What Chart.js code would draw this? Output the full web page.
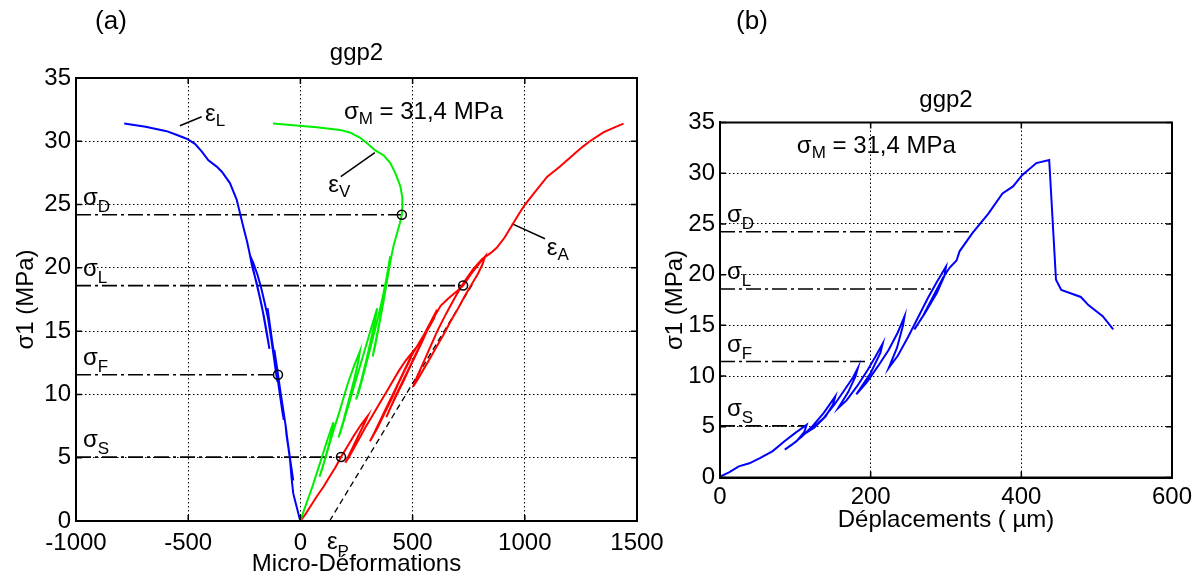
<!DOCTYPE html>
<html><head><meta charset="utf-8">
<script src="https://cdn.jsdelivr.net/npm/chart.js@4.4.1/dist/chart.umd.min.js"></script>
<style>
html,body{margin:0;padding:0;background:#fff;width:1198px;height:579px;overflow:hidden;}
canvas{position:absolute;top:0;}
#ca{left:0;}
#cb{left:650px;}
</style></head><body>
<canvas id="ca" width="690" height="579"></canvas>
<canvas id="cb" width="548" height="579"></canvas>
<script>
const FONT = "'Liberation Sans', Arial, Helvetica, sans-serif";

// ---------- Panel (a) data: stress (MPa) vs micro-strain ----------
const epsL = [[0,0],[-5,0.3],[-15,1.0],[-25,1.7],[-32,2.2],[-40,3.5],[-46,4.8],[-55,6.0],[-66,7.6],
  [-62,6.8],[-52,5.6],[-40,4.2],[-32,3.2],
  [-38,3.8],[-46,4.9],[-56,6.2],[-68,7.8],[-80,9.2],[-92,10.6],[-104,12.1],[-116,13.5],
  [-111,12.6],[-100,11.2],[-86,9.4],[-74,8.0],
  [-80,8.6],[-90,9.8],[-101,11.2],[-113,12.7],[-125,14.1],[-136,15.5],[-146,16.8],
  [-140,15.9],[-128,14.3],[-114,12.5],[-102,11.0],
  [-108,11.6],[-118,12.9],[-130,14.4],[-144,16.0],[-160,17.3],[-176,18.5],[-192,19.5],[-210,20.4],[-225,21.0],
  [-215,20.1],[-195,18.8],[-172,17.0],[-152,15.0],[-138,13.6],
  [-148,14.7],[-162,16.1],[-180,17.6],[-200,19.1],[-222,20.8],[-238,22.1],[-254,23.2],[-284,25.4],[-314,26.7],
  [-350,27.6],[-373,28.0],[-410,28.5],[-440,29.2],[-470,29.8],[-507,30.2],[-550,30.5],[-596,30.8],[-690,31.15],[-785,31.4]];
const epsV = [[0,0],[15,0.8],[35,1.8],[55,2.8],[75,3.9],[95,5.0],[120,6.4],[147,7.8],
  [140,7.0],[125,5.9],[105,4.6],[85,3.5],
  [95,4.0],[112,5.0],[130,6.1],[150,7.3],[170,8.4],[190,9.6],[212,10.9],[238,12.2],[265,13.4],
  [258,12.6],[240,11.2],[215,9.5],[190,7.8],[170,6.6],
  [180,7.1],[200,8.3],[222,9.6],[245,11.0],[270,12.5],[295,14.0],[320,15.5],[342,16.8],
  [335,16.0],[318,14.6],[295,12.8],[270,11.0],[248,9.6],
  [260,10.2],[280,11.5],[302,13.0],[325,14.6],[348,16.2],[368,17.8],[385,19.3],[400,20.9],
  [395,20.0],[382,18.6],[362,16.6],[340,14.6],[322,13.0],
  [335,14.0],[352,15.6],[370,17.3],[388,19.2],[404,20.8],[416,21.8],[430,22.7],[443,23.5],[452,24.2],[455,25.0],[454,25.6],
  [446,26.4],[436,26.9],[420,27.6],[400,28.3],[370,28.9],[332,29.3],[300,29.8],[265,30.3],[220,30.7],
  [176,30.9],[73,31.1],[-122,31.4]];
const epsA = [[0,0],[25,0.6],[50,1.3],[75,2.0],[103,2.7],[130,3.5],[155,4.2],[181,5.05],[210,5.9],[240,6.8],[270,7.6],[300,8.3],
  [285,7.7],[260,6.8],[230,5.7],[200,4.6],
  [215,5.0],[240,5.8],[265,6.6],[290,7.4],[320,8.3],[350,9.2],[380,10.1],[410,11.0],[440,11.9],[470,12.7],[502,13.4],
  [490,12.8],[465,11.9],[435,10.8],[405,9.6],[375,8.5],[345,7.4],[310,6.3],
  [330,7.0],[360,8.1],[390,9.2],[420,10.3],[455,11.6],[490,12.9],[520,13.8],[550,14.7],[580,15.7],[609,16.7],
  [595,16.0],[564,15.0],[538,14.0],[511,13.0],[484,12.0],[458,11.0],[430,10.0],[403,9.0],[383,8.2],
  [400,8.9],[425,9.9],[455,11.0],[490,12.3],[525,13.6],[560,14.9],[595,16.1],[625,17.0],[660,17.6],[700,18.2],[725,18.6],
  [760,19.5],[795,20.3],[823,20.9],
  [812,20.3],[790,19.5],[760,18.6],[730,17.7],[700,16.7],[670,15.8],[640,14.8],[608,13.8],[576,12.8],[546,11.9],[520,11.1],[502,10.6],
  [520,11.4],[545,12.4],[575,13.6],[610,15.0],[650,16.4],[690,17.7],[730,18.9],[770,19.9],[810,20.7],[850,21.2],[876,21.6],
  [910,22.4],[948,23.5],[975,24.3],[1001,25.0],[1050,26.1],[1100,27.2],[1157,28.0],[1220,29.0],[1260,29.6],[1290,30.0],
  [1350,30.7],[1400,31.1],[1440,31.4]];
const epsP = [[130,0],[770,18.8]];
const circlesA = [[452,24.2],[725,18.6],[-100,11.55],[181,5.05]];
const sigmaNames = ['D','L','F','S'];
const sigmaA = [24.2, 18.6, 11.55, 5.05];
const sigmaA_end = [452, 725, -100, 181];
const leaderL = [[-537,31.23],[-440,31.94]];
const leaderV = [[180,27.2],[332,29.1]];
const leaderA = [[942,23.5],[1090,22.3]];
const ticksA_x = [-1000,-500,0,500,1000,1500];
const ticksY = [0,5,10,15,20,25,30,35];

// ---------- Panel (b) data: stress (MPa) vs displacement (µm) ----------
const dispB = [[0,0.1],[12,0.5],[25,1.1],[39,1.4],[53,1.9],[70,2.6],[86,3.6],[100,4.4],[115,5.2],
  [112,4.5],[102,3.6],[86,2.75],
  [95,3.2],[108,4.0],[122,5.0],[138,6.4],[153,8.0],
  [150,7.2],[140,6.0],[125,4.9],[110,4.2],
  [122,4.8],[138,5.9],[152,7.2],[165,8.6],[176,9.8],[183,10.8],
  [180,10.0],[170,8.4],[157,6.85],
  [168,7.6],[182,9.0],[196,10.6],[207,12.0],[216,13.2],
  [213,12.3],[200,10.3],[181,8.2],
  [195,9.4],[210,11.0],[224,12.6],[236,14.3],[245,15.9],
  [243,15.0],[235,12.8],[224,10.8],
  [236,12.0],[250,13.9],[263,15.8],[276,17.7],[288,19.3],[300,20.8],
  [298,19.9],[288,18.2],[272,16.2],[258,14.6],
  [270,16.0],[284,18.0],[296,19.7],[305,20.7],[314,21.4],[318,22.3],[335,24.1],[356,26.0],[375,28.0],
  [389,28.7],[401,29.8],[420,31.0],[437,31.3],[446,19.5],[453,18.5],[479,17.8],[489,17.0],[508,15.9],[522,14.6]];
const sigmaB = [24.23, 18.58, 11.43, 5.09];
const sigmaB_end = [332, 280, 195, 115];
const ticksB_x = [0,200,400,600];

// ---------- helpers ----------
const toXY = a => a.map(p => ({x:p[0], y:p[1]}));
function lineDs(arr, color, width, dash){
  return {data: toXY(arr), showLine:true, borderColor:color, borderWidth:width, borderDash:dash||[],
    pointRadius:0, pointHoverRadius:0, fill:false, tension:0};
}
function circleDs(arr){
  return {data: toXY(arr), showLine:false, pointRadius:4.5, pointBorderWidth:1.5,
    pointBorderColor:'#000', pointBackgroundColor:'rgba(0,0,0,0)', pointStyle:'circle'};
}
const DASHDOT = [15,4,3,4];
function sigmaLines(levels, ends, xmin){
  return levels.map((v,i)=> lineDs([[xmin,v],[ends[i],v]], '#000', 1.6, DASHDOT));
}
function drawSub(ctx, x, y, main, sub, size, subSize, drop){
  ctx.font = size+'px '+FONT; ctx.textAlign='left'; ctx.textBaseline='alphabetic'; ctx.fillStyle='#000';
  ctx.fillText(main, x, y);
  const w = ctx.measureText(main).width;
  ctx.font = subSize+'px '+FONT;
  ctx.fillText(sub, x+w, y+drop);
  return x + w + ctx.measureText(sub).width;
}
function frame(chart){
  const {ctx, chartArea:a, scales:{x,y}} = chart;
  ctx.save();
  ctx.strokeStyle='#000'; ctx.lineWidth=1.5;
  ctx.beginPath();
  x.ticks.forEach(t=>{const p=x.getPixelForValue(t.value); ctx.moveTo(p,a.bottom); ctx.lineTo(p,a.bottom-6); ctx.moveTo(p,a.top); ctx.lineTo(p,a.top+6);});
  y.ticks.forEach(t=>{const p=y.getPixelForValue(t.value); ctx.moveTo(a.left,p); ctx.lineTo(a.left+6,p); ctx.moveTo(a.right,p); ctx.lineTo(a.right-6,p);});
  ctx.stroke();
  ctx.lineWidth=2;
  ctx.strokeRect(a.left,a.top,a.right-a.left,a.bottom-a.top);
  ctx.restore();
}
function scales(c){
  return {
    x: {type:'linear', min:c.xmin, max:c.xmax,
      afterBuildTicks: s => { s.ticks = c.xticks.map(v=>({value:v})); },
      ticks:{color:'#000', font:{family:FONT,size:24}, padding:c.xpad, maxRotation:0, autoSkip:false, callback:v=>String(v)},
      grid:{color:'#000', lineWidth:1, drawTicks:false},
      border:{display:true, color:'#000', width:2, dash:[1.5,2.5]},
      title:{display:true, text:c.xtitle, color:'#000', font:{family:FONT,size:24}, padding:{top:0,bottom:c.xtitlePad}},
      afterFit: s => { s.height = c.xh; s.paddingLeft=0; s.paddingRight=0; s.paddingTop=0; s.paddingBottom=0; }
    },
    y: {type:'linear', min:0, max:35,
      afterBuildTicks: s => { s.ticks = ticksY.map(v=>({value:v})); },
      ticks:{color:'#000', font:{family:FONT,size:24}, padding:c.ypad, callback:v=>String(v)},
      grid:{color:'#000', lineWidth:1, drawTicks:false},
      border:{display:true, color:'#000', width:2, dash:[1.5,2.5]},
      title:{display:true, text:'σ1 (MPa)', color:'#000', font:{family:FONT,size:24}, padding:{top:c.ytitlePad,bottom:0}},
      afterFit: s => { s.width = c.yw; s.paddingLeft=0; s.paddingRight=0; s.paddingTop=0; s.paddingBottom=0; }
    }
  };
}
function titleOpt(top, bottom){
  return {display:true, text:'ggp2', color:'#000', fullSize:false, align:'center',
    font:{family:FONT, size:24, weight:'normal'}, padding:{top:top, bottom:bottom}};
}

// ---------- Chart (a) ----------
const annA = {
  panel:'(a)', panelX:111,
  sigmaM:{x:194, y:31.8},
  eps:[{x:-425,y:31.6,s:'L'},{x:124,y:26.0,s:'V'},{x:1098,y:21.0,s:'A'}],
  epsPx:118
};
new Chart(document.getElementById('ca'), {
  type:'scatter',
  data:{datasets:[
    circleDs(circlesA),
    lineDs(epsL,'#0000ff',2),
    lineDs(epsV,'#00ee00',2),
    lineDs(epsA,'#ff0000',2),
    lineDs(epsP,'#000',1.3,[6,4]),
    lineDs(leaderL,'#000',1.5), lineDs(leaderV,'#000',1.5), lineDs(leaderA,'#000',1.5),
    ...sigmaLines(sigmaA, sigmaA_end, -1000)
  ]},
  options:{
    responsive:false, animation:false, events:[],
    layout:{padding:{left:0,right:53,top:0,bottom:0}},
    plugins:{legend:{display:false}, tooltip:{enabled:false}, title:titleOpt(38.6,10.6)},
    scales: scales({xmin:-1000,xmax:1500,xticks:ticksA_x,xtitle:'Micro-Déformations',xpad:8,xtitlePad:0,xh:58,ypad:5,ytitlePad:12,yw:76})
  },
  plugins:[{id:'annA', afterDraw(chart){
    frame(chart);
    const {ctx, chartArea:a, scales:{x,y}} = chart;
    ctx.save();
    ctx.fillStyle='#000'; ctx.font='26px '+FONT; ctx.textAlign='center'; ctx.textBaseline='middle';
    ctx.fillText(annA.panel, annA.panelX, 22);
    let e = drawSub(ctx, x.getPixelForValue(annA.sigmaM.x), y.getPixelForValue(annA.sigmaM.y), 'σ','M',24,17,5);
    ctx.font='24px '+FONT; ctx.fillText(' = 31,4 MPa', e, y.getPixelForValue(annA.sigmaM.y));
    sigmaA.forEach((v,i)=>{ const py=y.getPixelForValue(v); drawSub(ctx, a.left+7, py-10, 'σ', sigmaNames[i], 24,17,7); });
    annA.eps.forEach(l=> drawSub(ctx, x.getPixelForValue(l.x), y.getPixelForValue(l.y), 'ε', l.s, 24,17,5));
    drawSub(ctx, x.getPixelForValue(annA.epsPx), a.bottom+28, 'ε','P',24,17,8);
    ctx.restore();
  }}]
});

// ---------- Chart (b) ----------
const annB = {panel:'(b)', panelX:102, sigmaM:{x:102, y:31.95}};
new Chart(document.getElementById('cb'), {
  type:'scatter',
  data:{datasets:[
    lineDs(dispB,'#0000ff',2),
    ...sigmaLines(sigmaB, sigmaB_end, 0)
  ]},
  options:{
    responsive:false, animation:false, events:[],
    layout:{padding:{left:0,right:26,top:0,bottom:0}},
    plugins:{legend:{display:false}, tooltip:{enabled:false}, title:titleOpt(85.6,8.1)},
    scales: scales({xmin:0,xmax:600,xticks:ticksB_x,xtitle:'Déplacements ( µm)',xpad:5,xtitlePad:44,xh:101.5,ypad:5,ytitlePad:11,yw:70})
  },
  plugins:[{id:'annB', afterDraw(chart){
    frame(chart);
    const {ctx, chartArea:a, scales:{x,y}} = chart;
    ctx.save();
    ctx.fillStyle='#000'; ctx.font='26px '+FONT; ctx.textAlign='center'; ctx.textBaseline='middle';
    ctx.fillText(annB.panel, annB.panelX, 22);
    let e = drawSub(ctx, x.getPixelForValue(annB.sigmaM.x), y.getPixelForValue(annB.sigmaM.y), 'σ','M',24,17,5);
    ctx.font='24px '+FONT; ctx.fillText(' = 31,4 MPa', e, y.getPixelForValue(annB.sigmaM.y));
    sigmaB.forEach((v,i)=>{ const py=y.getPixelForValue(v); drawSub(ctx, a.left+7, py-10, 'σ', sigmaNames[i], 24,17,7); });
    ctx.restore();
  }}]
});
</script>
</body></html>
